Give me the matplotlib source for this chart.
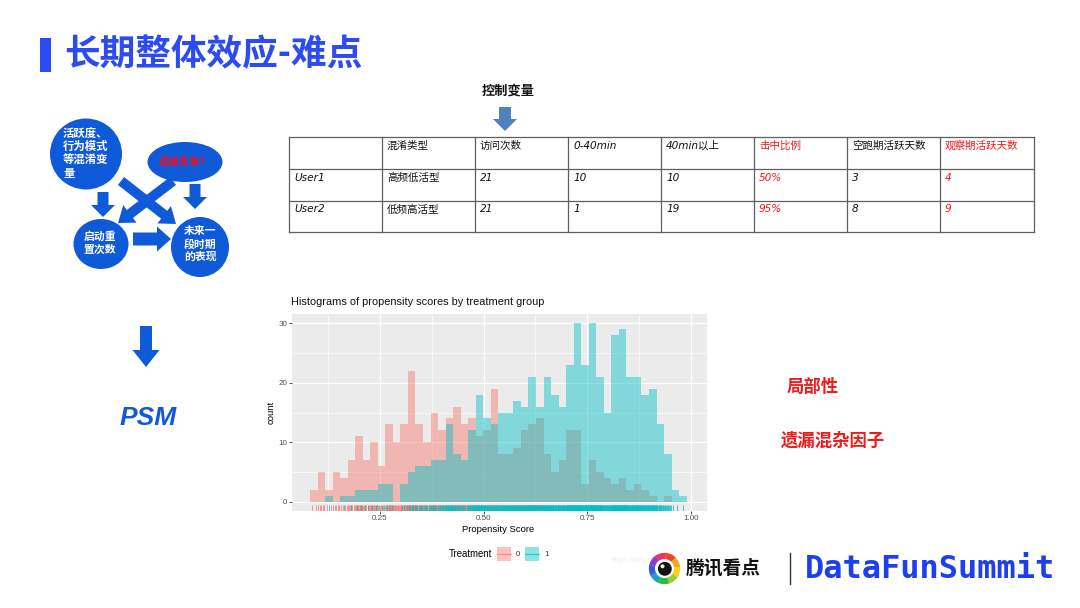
import numpy as np
import matplotlib
matplotlib.use('Agg')
import matplotlib.pyplot as plt
from matplotlib import patches

plt.rcParams['font.family'] = ['Noto Sans CJK SC', 'DejaVu Sans']

# ---------------- data ----------------
slide_title = '长期整体效应-难点'
diagram_nodes = ['活跃度、\n行为模式\n等混淆变\n量', '遗漏变量？', '启动重\n置次数', '未来一\n段时期\n的表现']
psm_label = 'PSM'
control_label = '控制变量'
table_header = ['', '混淆类型', '访问次数', '0-40min', '40min以上', '击中比例', '空跑期活跃天数', '观察期活跃天数']
table_row1 = ['User1', '高频低活型', '21', '10', '10', '50%', '3', '4']
table_row2 = ['User2', '低频高活型', '21', '1', '19', '95%', '8', '9']
red_columns = [5, 7]
side_notes = ['局部性', '遗漏混杂因子']

hist_title = 'Histograms of propensity scores by treatment group'
x_label = 'Propensity Score'
y_label = 'count'
legend_title = 'Treatment'
treatment_levels = ['0', '1']
bin_lo, bin_hi, n_bins = 0.081, 0.990, 50
count_t0 = [2, 5, 2, 5, 4, 7, 11, 7, 10, 6, 13, 10, 13, 22, 13, 10, 15, 12, 14, 16,
            13, 14, 11, 12, 19, 8, 8, 9, 12, 13, 14, 8, 5, 7, 12, 12, 3, 7, 5, 4,
            3, 4, 2, 3, 2, 1, 0, 1, 0, 0]
count_t1 = [0, 0, 1, 0, 1, 1, 2, 2, 2, 3, 3, 0, 3, 5, 6, 6, 7, 7, 13, 8,
            7, 12, 18, 14, 13, 15, 15, 17, 16, 21, 16, 21, 18, 16, 23, 30, 23, 30, 21, 15,
            28, 29, 21, 21, 18, 19, 13, 8, 2, 1]
x_ticks = [0.25, 0.50, 0.75, 1.00]
x_ticklabels = ['0.25', '0.50', '0.75', '1.00']
y_ticks = [0, 10, 20, 30]
y_ticklabels = ['0', '10', '20', '30']
brand_cn = '腾讯看点'
brand_en = 'DataFunSummit'

# ---------------- figure ----------------
W, H = 1080, 608
fig = plt.figure(figsize=(W / 100, H / 100), dpi=100, facecolor='white')
bg = fig.add_axes([0, 0, 1, 1])
bg.set_xlim(0, W)
bg.set_ylim(H, 0)
bg.axis('off')

BLUE_T = '#2D4BF3'
BLUE_D = '#0F5AD8'
RED = '#F01A1A'

# title
bg.add_patch(patches.Rectangle((40, 38), 11, 34, color=BLUE_T, lw=0))
bg.text(64, 55, slide_title, fontsize=25.7, fontweight='bold', color=BLUE_T,
        ha='left', va='center')

# ---------------- left diagram ----------------
bg.add_patch(patches.Ellipse((86, 154), 72, 71, color=BLUE_D, lw=0))
bg.add_patch(patches.Ellipse((185, 162), 75, 40, color=BLUE_D, lw=0))
bg.add_patch(patches.Ellipse((101, 244), 55, 50, color=BLUE_D, lw=0))
bg.add_patch(patches.Ellipse((200, 247), 58, 60, color=BLUE_D, lw=0))

def block_arrow(x0, y0, x1, y1, w, hw, hl, color=BLUE_D):
    bg.add_patch(patches.FancyArrow(x0, y0, x1 - x0, y1 - y0, width=w, head_width=hw,
                                    head_length=hl, length_includes_head=True,
                                    color=color, lw=0))

block_arrow(103, 192, 103, 217, 11, 24, 12)
block_arrow(195, 184, 195, 209, 11, 24, 12)
block_arrow(133, 239, 171, 239, 13, 25, 14)
block_arrow(121, 181, 176, 224, 10, 22, 15)
block_arrow(173, 181, 118, 223, 10, 22, 15)

for k, line in enumerate(diagram_nodes[0].split('\n')):
    bg.text(63, 133 + k * 13.5, line, fontsize=8.2, fontweight='bold', color='white',
            ha='left', va='center')
bg.text(185, 162, diagram_nodes[1], fontsize=7.5, fontweight='bold', color='#E8102A',
        ha='center', va='center')
bg.text(100, 243, diagram_nodes[2], fontsize=7.8, fontweight='bold', color='white',
        ha='center', va='center', linespacing=1.25)
bg.text(200, 244, diagram_nodes[3], fontsize=7.8, fontweight='bold', color='white',
        ha='center', va='center', linespacing=1.25)

# big arrow + PSM
block_arrow(146, 326, 146, 367, 12, 27, 17)
bg.text(148, 418, psm_label, fontsize=19, fontweight='bold', fontstyle='italic',
        family=['Liberation Sans'], color=BLUE_D, ha='center', va='center')

# ---------------- table ----------------
bg.text(508, 91, control_label, fontsize=9.5, fontweight='bold', color='#111111',
        ha='center', va='center')
block_arrow(505, 107, 505, 131, 12, 24, 12, color='#4F81BD')

col_edges = [289, 382, 475, 568, 661, 754, 847, 940, 1034]
row_edges = [137, 169, 200.5, 232]
for x in col_edges:
    bg.plot([x, x], [row_edges[0], row_edges[-1]], color='#5F5F5F', lw=0.9)
for y in row_edges:
    bg.plot([col_edges[0], col_edges[-1]], [y, y], color='#5F5F5F', lw=0.9)
for r, row in enumerate([table_header, table_row1, table_row2]):
    for c, txt in enumerate(row):
        if not txt:
            continue
        bg.text(col_edges[c] + 5, row_edges[r] + 9, txt, fontsize=7.6,
                family=['DejaVu Sans', 'Noto Sans CJK SC'], fontstyle='italic',
                color=RED if c in red_columns else '#111111', ha='left', va='center')

# right notes
bg.text(787, 387, side_notes[0], fontsize=12.5, fontweight='bold', color=RED, ha='left', va='center')
bg.text(781, 441, side_notes[1], fontsize=12.5, fontweight='bold', color=RED, ha='left', va='center')

# ---------------- histogram (ggplot style) ----------------
HF = ['Liberation Sans']
C0, C1 = '#F8766D', '#00BFC4'
ax = fig.add_axes([292 / W, 1 - 510.7 / H, 414.7 / W, (510.7 - 314.3) / H])
ax.set_facecolor('#EBEBEB')
edges = np.linspace(bin_lo, bin_hi, n_bins + 1)
bw = edges[1] - edges[0]
ax.bar(edges[:-1], count_t0, width=bw, align='edge', color=C0, alpha=0.45, lw=0, zorder=2)
ax.bar(edges[:-1], count_t1, width=bw, align='edge', color=C1, alpha=0.45, lw=0, zorder=3)

# rug: observations spread within their bins
trans = ax.get_xaxis_transform()
for counts, col in ((count_t0, C0), (count_t1, C1)):
    pos = []
    for left, n in zip(edges[:-1], counts):
        pos.extend(left + (np.arange(n) + 0.5) * bw / max(n, 1))
    ax.vlines(pos, 0, 0.03, transform=trans, color=col, alpha=0.75, lw=0.7, zorder=4)

ax.set_xlim(0.0376, 1.0384)
ax.set_ylim(-1.5, 31.5)
ax.set_xticks(x_ticks)
ax.set_xticklabels(x_ticklabels, family=HF, fontsize=5.8, color='#4D4D4D')
ax.set_yticks(y_ticks)
ax.set_yticklabels(y_ticklabels, family=HF, fontsize=5.8, color='#4D4D4D')
ax.set_xticks([0.125, 0.375, 0.625, 0.875], minor=True)
ax.set_yticks([5, 15, 25], minor=True)
ax.tick_params(which='major', length=2.2, width=0.6, color='#333333', pad=1.2)
ax.tick_params(which='minor', length=0)
ax.grid(which='major', color='white', lw=0.9, zorder=1)
ax.grid(which='minor', color='white', lw=0.45, zorder=1)
ax.set_axisbelow(True)
for s in ax.spines.values():
    s.set_visible(False)

bg.text(291, 302, hist_title, family=HF, fontsize=7.9, color='#111111', ha='left', va='center')
bg.text(498, 529, x_label, family=HF, fontsize=6.8, color='black', ha='center', va='center')
bg.text(271, 412, y_label, family=HF, fontsize=6.8, color='black', ha='center', va='center',
        rotation=90)

# legend
bg.text(449, 554, legend_title, family=HF, fontsize=6.9, color='black', ha='left', va='center')
for i, (lab, col) in enumerate(zip(treatment_levels, (C0, C1))):
    kx = 497 + i * 28
    bg.add_patch(patches.Rectangle((kx, 547), 14, 14, color=col, alpha=0.45, lw=0))
    bg.plot([kx, kx + 14], [554, 554], color=col, alpha=0.7, lw=0.9)
    bg.text(kx + 19, 554, lab, family=HF, fontsize=5.6, color='#333333', ha='left', va='center')

# ---------------- bottom brand ----------------
bg.text(612, 561, 'https://blog.csdn.net', family=HF, fontsize=5, color='#EDEDED',
        ha='left', va='center', zorder=0)
lg = fig.add_axes([648 / W, 1 - 585 / H, 33 / W, 33 / H])
lg.set_xlim(-1, 1)
lg.set_ylim(-1, 1)
lg.set_aspect('equal')
lg.axis('off')
ring_colors = ['#F5A623', '#F7D11E', '#9ACD32', '#2DB84C', '#18A3C9', '#3A5BD9',
               '#8A3FD1', '#E8336B', '#F0402E']
n = len(ring_colors)
for k, c in enumerate(ring_colors):
    a0 = 45 - k * 360 / n
    lg.add_patch(patches.Wedge((0, 0), 0.95, a0 - 360 / n, a0 + 1, color=c, lw=0))
lg.add_patch(patches.Circle((0, 0), 0.58, color='white', lw=0))
lg.add_patch(patches.Circle((0.02, -0.02), 0.42, color='#111111', lw=0))
lg.add_patch(patches.Circle((-0.12, 0.13), 0.12, color='white', lw=0))

bg.text(686, 568, brand_cn, fontsize=13.5, fontweight='bold', color='#111111',
        ha='left', va='center')
bg.plot([790, 790], [553, 584], color='#333333', lw=1.0)
bg.text(805, 570, brand_en, family=['DejaVu Sans Mono'], fontsize=23, fontweight='bold',
        color='#1D3FF0', ha='left', va='center')

fig.savefig('out.png', dpi=100, facecolor='white')
